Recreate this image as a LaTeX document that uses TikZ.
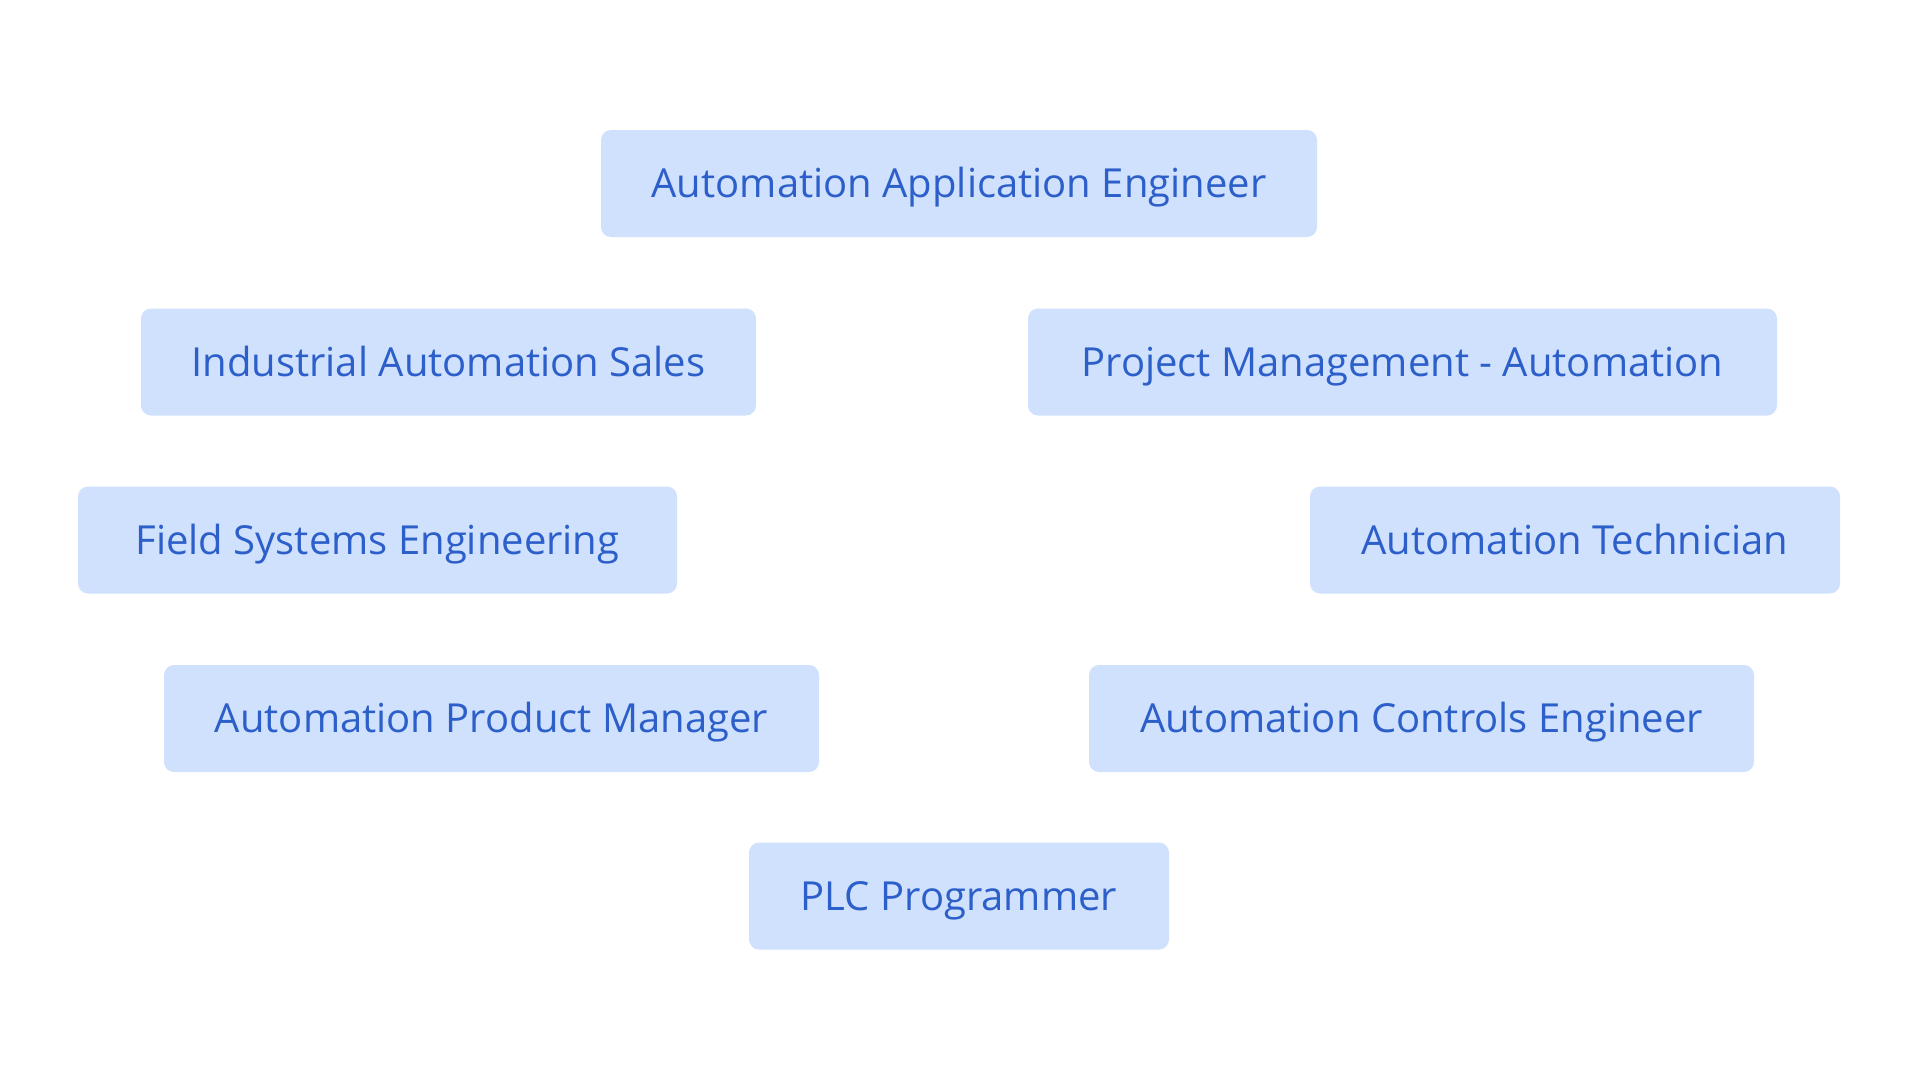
\documentclass[tikz,border=0pt]{standalone}
\usepackage{fontspec}
\setmainfont{Open Sans}
\usepackage{xcolor}
\definecolor{roleFill}{HTML}{D0E1FD}
\definecolor{roleInk}{HTML}{2C5FC9}
\begin{document}
\begin{tikzpicture}[
  x=1pt, y=-1pt,
  role/.style={rounded corners=10pt, fill=roleFill, text=roleInk, align=center,
    inner xsep=0pt, inner ysep=0pt, minimum height=107pt,
    text height=28.6pt, text depth=0pt,
    font=\fontsize{40}{48}\selectfont}
]
  \useasboundingbox (0,0) rectangle (1919,1079);
  \node[role,minimum width=716pt] (app)  at (959,183.5)   {Automation Application Engineer};
  \node[role,minimum width=615pt] (sales) at (448.5,362)  {Industrial Automation Sales};
  \node[role,minimum width=749pt] (pm)   at (1402.5,362)  {Project Management - Automation};
  \node[role,minimum width=599pt] (field) at (377.5,540)  {Field Systems Engineering};
  \node[role,minimum width=530pt] (tech) at (1575,540)    {Automation Technician};
  \node[role,minimum width=655pt] (prod) at (491.5,718.5) {Automation Product Manager};
  \node[role,minimum width=665pt] (ctrl) at (1421.5,718.5) {Automation Controls Engineer};
  \node[role,minimum width=420pt] (plc)  at (959,896)     {PLC Programmer};
\end{tikzpicture}
\end{document}
